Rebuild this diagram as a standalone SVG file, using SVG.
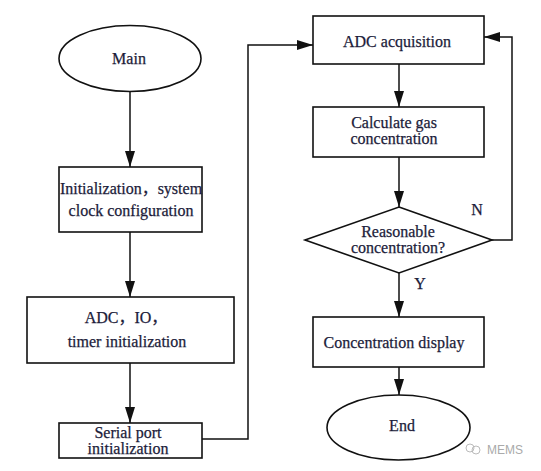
<svg xmlns="http://www.w3.org/2000/svg" width="541" height="471" viewBox="0 0 541 471">
<style>
.s{fill:#fff;stroke:#111;stroke-width:1.6}
.t{font-family:"Liberation Serif","Noto Sans CJK SC",serif;font-size:16px;fill:#1c1c3a;stroke:#1c1c3a;stroke-width:0.25;text-anchor:middle}
.c{fill:none;stroke:#111;stroke-width:1.5}
</style>
<defs>
<marker id="d" viewBox="0 0 16 10" refX="16" refY="5" markerWidth="16" markerHeight="10" markerUnits="userSpaceOnUse" orient="auto">
<path d="M0,0 L16,5 L0,10 Z" fill="#111"/>
</marker>
</defs>
<rect width="541" height="471" fill="#fff"/>
<g id="connectors">
<line class="c" x1="130" y1="92" x2="130" y2="167" marker-end="url(#d)"/>
<line class="c" x1="130" y1="232" x2="130" y2="297" marker-end="url(#d)"/>
<line class="c" x1="130" y1="363" x2="130" y2="423" marker-end="url(#d)"/>
<polyline class="c" points="202,439 248,439 248,45 313,45" marker-end="url(#d)"/>
<line class="c" x1="399" y1="64" x2="399" y2="107" marker-end="url(#d)"/>
<line class="c" x1="399" y1="157" x2="399" y2="207" marker-end="url(#d)"/>
<polyline class="c" points="492,240 512,240 512,37 484,37" marker-end="url(#d)"/>
<line class="c" x1="399" y1="273" x2="399" y2="317" marker-end="url(#d)"/>
<line class="c" x1="399" y1="367" x2="399" y2="395" marker-end="url(#d)"/>
<text class="t" x="477" y="215">N</text>
<text class="t" x="420" y="289">Y</text>
</g>
<g id="main">
<ellipse class="s" cx="130" cy="58.5" rx="71" ry="33"/>
<text class="t" x="129" y="64">Main</text>
</g>
<g id="init">
<rect class="s" x="59" y="167" width="143" height="65"/>
<text class="t" x="131" y="194">Initialization，system</text>
<text class="t" x="131" y="216">clock configuration</text>
</g>
<g id="adcio">
<rect class="s" x="27" y="297" width="207" height="66"/>
<text class="t" x="126" y="323">ADC，IO，</text>
<text class="t" x="127" y="347">timer initialization</text>
</g>
<g id="serial">
<rect class="s" x="59" y="423" width="143" height="35"/>
<text class="t" x="128" y="438">Serial port</text>
<text class="t" x="128" y="454">initialization</text>
</g>
<g id="adcacq">
<rect class="s" x="313" y="16" width="171" height="48"/>
<text class="t" x="397" y="47">ADC acquisition</text>
</g>
<g id="calc">
<rect class="s" x="313" y="107" width="171" height="50"/>
<text class="t" x="394" y="128">Calculate gas</text>
<text class="t" x="394" y="144">concentration</text>
</g>
<g id="decision">
<polygon class="s" points="399,207 492,240 399,273 305,240"/>
<text class="t" x="398" y="237">Reasonable</text>
<text class="t" x="398" y="253">concentration?</text>
</g>
<g id="display">
<rect class="s" x="313" y="317" width="171" height="50"/>
<text class="t" x="394" y="348">Concentration display</text>
</g>
<g id="end">
<ellipse class="s" cx="398.5" cy="427.5" rx="71.5" ry="32.5"/>
<text class="t" x="402" y="431">End</text>
</g>
<g id="watermark">
<circle cx="470" cy="448" r="4" fill="none" stroke="#bbb" stroke-width="1"/>
<circle cx="476" cy="450" r="4" fill="none" stroke="#bbb" stroke-width="1"/>
<text x="487" y="454" font-family="Liberation Sans, Arial, sans-serif" font-size="12" fill="#aaa">MEMS</text>
</g>
</svg>
